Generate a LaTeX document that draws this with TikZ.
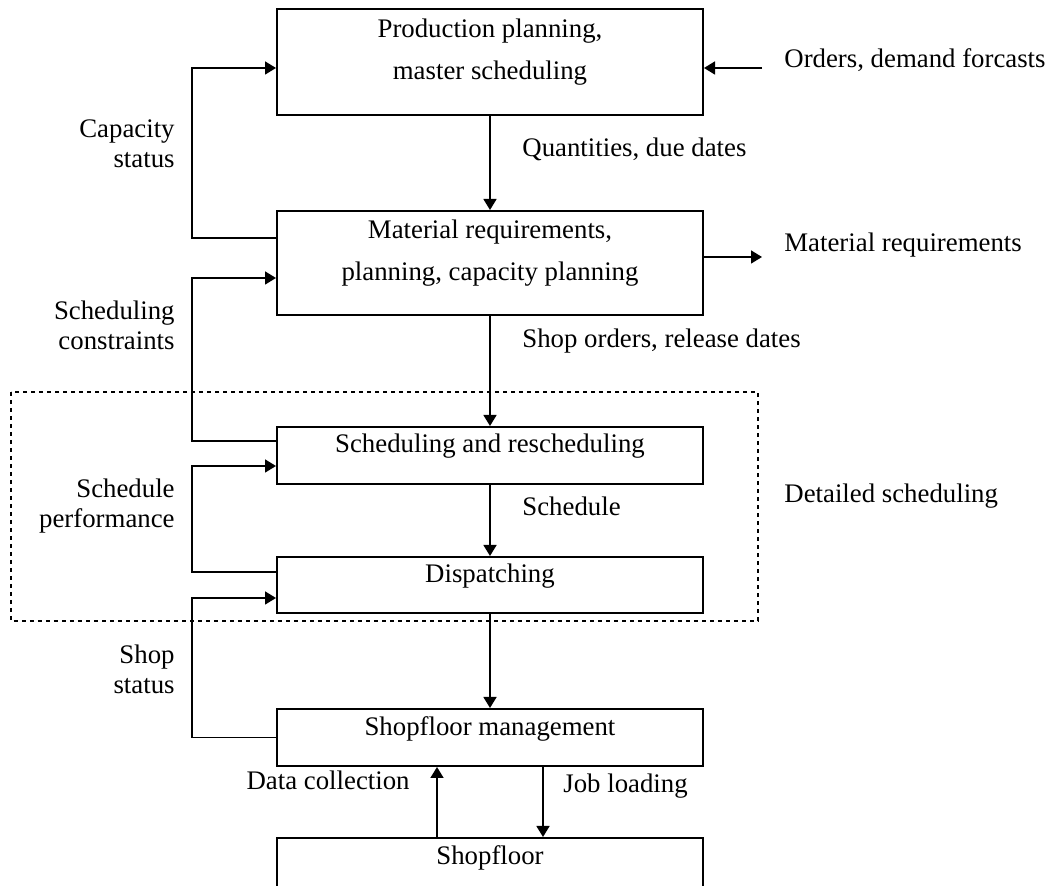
\documentclass[tikz,border=0pt]{standalone}
\usepackage{fontspec}
\setmainfont{Liberation Serif}
\usetikzlibrary{positioning,arrows.meta}
\begin{document}
\begin{tikzpicture}[x=0.5pt,y=-0.5pt,
    box/.style={draw,line width=1pt,minimum width=213pt,inner sep=0pt},
    boxtext/.style={align=center,inner sep=0pt,font=\fontsize{13.4}{20.75}\selectfont},
    lbl/.style={inner sep=0pt,font=\fontsize{13.4}{15}\selectfont},
    conn/.style={line width=0.8pt,-{Triangle[length=5.5pt,width=6.5pt]}}]
  \useasboundingbox (0,0) rectangle (1051,886);
  % boxes
  \node[box,minimum height=53pt] (pp) at (490,62) {};
  \node[box,minimum height=52pt,below=47pt of pp] (mrp) {};
  \node[box,minimum height=28.5pt,below=55pt of mrp] (sched) {};
  \node[box,minimum height=28pt,below=35.5pt of sched] (disp) {};
  \node[box,minimum height=28.5pt,below=47pt of disp] (sfm) {};
  \node[box,minimum height=28.5pt,below=35pt of sfm] (sf) {};
  \node[boxtext,below=5.5pt of pp.north] (pptext) {Production planning,\\master scheduling};
  \node[boxtext,below=5pt of mrp.north] (mrptext) {Material requirements,\\planning, capacity planning};
  \node[boxtext,below=4pt of sched.north] (schedtext) {Scheduling and rescheduling};
  \node[boxtext,below=4pt of disp.north] (disptext) {Dispatching};
  \node[boxtext,below=4pt of sfm.north] (sfmtext) {Shopfloor management};
  \node[boxtext,below=4pt of sf.north] (sftext) {Shopfloor};
  \draw[dash pattern=on 2pt off 2pt,line width=0.8pt] (11,392) rectangle (758,621);
  % main flow
  \draw[conn] (pp) -- (mrp);
  \draw[conn] (mrp) -- (sched);
  \draw[conn] (sched) -- (disp);
  \draw[conn] (disp) -- (sfm);
  \draw[conn] ([xshift=26.5pt]sfm.south) -- ([xshift=26.5pt]sf.north);
  \draw[conn] ([xshift=-26.5pt]sf.north) -- ([xshift=-26.5pt]sfm.south);
  \coordinate (ord) at (762,68);
  \coordinate (mout) at (762,257);
  \draw[conn] (ord) -- (ord -| pp.east);
  \draw[conn] (mout -| mrp.east) -- (mout);
  % feedback
  \draw[conn] ([yshift=12.5pt]mrp.west) -- ++(-84,0) |- ([yshift=-3pt]pp.west);
  \draw[conn] ([yshift=7.25pt]sched.west) -- ++(-84,0) |- ([yshift=-7.5pt]mrp.west);
  \draw[conn] ([yshift=6.5pt]disp.west) -- ++(-84,0) |- ([yshift=-5.25pt]sched.west);
  \draw[conn] (sfm.west) -- ++(-84,0) |- ([yshift=-6.5pt]disp.west);
  % labels
  \node[lbl,anchor=mid west] (ordtext) at (784,63) {Orders, demand forcasts};
  \node[lbl,anchor=mid west] (mouttext) at (784,247) {Material requirements};
  \node[lbl,anchor=mid west] (qtytext) at (522,152) {Quantities, due dates};
  \node[lbl,anchor=mid west] (shoptext) at (522,343) {Shop orders, release dates};
  \node[lbl,anchor=mid west] (schedlbl) at (522,511) {Schedule};
  \node[lbl,anchor=mid west] (detail) at (784,498) {Detailed scheduling};
  \node[lbl,anchor=mid west] (jobtext) at (563,788) {Job loading};
  \node[lbl,anchor=mid east] (datatext) at (410,785) {Data collection};
  \node[lbl,align=right,anchor=east] (capstat) at (175,144) {Capacity\\status};
  \node[lbl,align=right,anchor=east] (schedcon) at (175,325) {Scheduling\\constraints};
  \node[lbl,align=right,anchor=east] (schedperf) at (175,506) {Schedule\\performance};
  \node[lbl,align=right,anchor=east] (shopstat) at (175,669) {Shop\\status};
\end{tikzpicture}
\end{document}
